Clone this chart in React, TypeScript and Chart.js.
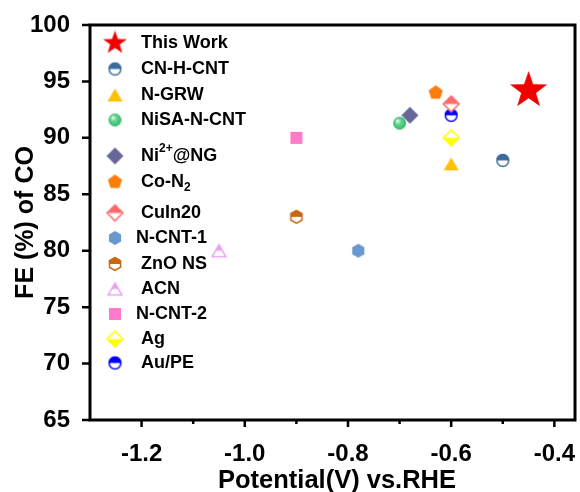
import { useEffect, useRef } from 'react';
import { Chart, registerables } from 'chart.js';

Chart.register(...registerables);

// Catalyst comparison: CO Faradaic efficiency vs. applied potential
const materials = [
  'This Work', 'CN-H-CNT', 'N-GRW', 'NiSA-N-CNT', 'Ni^{2+}@NG', 'Co-N_{2}',
  'CuIn20', 'N-CNT-1', 'ZnO NS', 'ACN', 'N-CNT-2', 'Ag', 'Au/PE',
];
const potentials = [-0.45, -0.5, -0.6, -0.7, -0.68, -0.63, -0.6, -0.78, -0.9, -1.05, -0.9, -0.6, -0.6];
const faradaicEff = [94.2, 88.0, 87.7, 91.3, 92.0, 94.0, 93.0, 80.0, 83.0, 80.0, 90.0, 90.0, 92.0];

const markerColors = [
  '#f20000', '#3b6a9b', '#ffc000', '#2fb864', '#666699', '#fb7d0a',
  '#ff6a6a', '#6699cc', '#cc6611', '#e6a3f0', '#ff7ac8', '#ffff00', '#0000ff',
];
// shape / fill style for each marker
const markerShapes = [
  'star', 'circle', 'triangle', 'circle', 'diamond', 'pentagon',
  'diamond', 'hexagon', 'hexagon', 'triangle', 'square', 'diamond', 'circle',
];
const markerFills = [
  'solid', 'top', 'solid', 'sphere', 'solid', 'solid',
  'top', 'solid', 'top', 'top', 'solid', 'bottom', 'top',
];

const xMajorTicks = [-1.2, -1.0, -0.8, -0.6, -0.4];
const xMinorTicks = [-1.1, -0.9, -0.7, -0.5];
const yTicks = [65, 70, 75, 80, 85, 90, 95, 100];

const FONT = '"Liberation Sans", Arial, sans-serif';

type Shape = string;

function tracePath(g: CanvasRenderingContext2D, shape: Shape, cx: number, cy: number, r: number) {
  g.beginPath();
  if (shape === 'circle') {
    g.arc(cx, cy, r, 0, Math.PI * 2);
  } else if (shape === 'diamond') {
    g.moveTo(cx, cy - r);
    g.lineTo(cx + r, cy);
    g.lineTo(cx, cy + r);
    g.lineTo(cx - r, cy);
    g.closePath();
  } else if (shape === 'square') {
    g.rect(cx - r, cy - r, 2 * r, 2 * r);
  } else if (shape === 'triangle') {
    const h = r * 1.75;
    g.moveTo(cx, cy - h / 2);
    g.lineTo(cx + r, cy + h / 2);
    g.lineTo(cx - r, cy + h / 2);
    g.closePath();
  } else {
    const n = shape === 'star' ? 10 : shape === 'pentagon' ? 5 : 6;
    for (let i = 0; i < n; i++) {
      const a = -Math.PI / 2 + (i * 2 * Math.PI) / n;
      const rr = shape === 'star' && i % 2 === 1 ? r * 0.4 : r;
      const px = cx + rr * Math.cos(a);
      const py = cy + rr * Math.sin(a);
      if (i === 0) g.moveTo(px, py);
      else g.lineTo(px, py);
    }
    g.closePath();
  }
}

function shapeRadius(shape: Shape, big: boolean) {
  switch (shape) {
    case 'star': return big ? 19.5 : 12.5;
    case 'circle': return 6.5;
    case 'diamond': return 8.5;
    case 'square': return 6;
    case 'triangle': return 7.5;
    case 'pentagon': return 7.5;
    case 'hexagon': return 7;
    default: return 7;
  }
}

function makeMarker(shape: Shape, fill: string, color: string, big: boolean) {
  const r = shapeRadius(shape, big);
  const S = Math.ceil(2 * r + 4);
  const c = document.createElement('canvas');
  c.width = S;
  c.height = S;
  const g = c.getContext('2d')!;
  const cx = S / 2;
  const cy = S / 2;
  tracePath(g, shape, cx, cy, r);
  if (fill === 'solid') {
    g.fillStyle = color;
    g.fill();
  } else if (fill === 'sphere') {
    const grad = g.createRadialGradient(cx - r * 0.35, cy - r * 0.4, 0.5, cx, cy, r);
    grad.addColorStop(0, '#e8fff0');
    grad.addColorStop(0.35, '#6fd99a');
    grad.addColorStop(1, color);
    g.fillStyle = grad;
    g.fill();
  } else {
    g.fillStyle = '#ffffff';
    g.fill();
    g.save();
    g.clip();
    g.fillStyle = color;
    if (fill === 'top') g.fillRect(0, 0, S, cy);
    else g.fillRect(0, cy, S, S - cy);
    g.restore();
    tracePath(g, shape, cx, cy, r - 0.6);
    g.strokeStyle = color;
    g.lineWidth = 1.5;
    g.stroke();
  }
  return c;
}

// legend row centres and text start
const legendRowsY = [43, 69, 95, 120, 156, 182, 213, 238, 264, 289, 314, 339, 363];
const legendTextX = [141, 141, 141, 141, 141, 141, 141, 136, 141, 141, 136, 141, 141];

function drawRichText(g: CanvasRenderingContext2D, text: string, x: number, y: number) {
  const parts = text.split(/(\^\{[^}]*\}|_\{[^}]*\})/).filter((p) => p.length);
  let cx = x;
  g.textBaseline = 'middle';
  g.textAlign = 'left';
  for (const p of parts) {
    if (p.startsWith('^{')) {
      const s = p.slice(2, -1);
      g.font = `bold 12px ${FONT}`;
      g.fillText(s, cx, y - 7);
      cx += g.measureText(s).width;
    } else if (p.startsWith('_{')) {
      const s = p.slice(2, -1);
      g.font = `bold 12px ${FONT}`;
      g.fillText(s, cx, y + 6);
      cx += g.measureText(s).width;
    } else {
      g.font = `bold 18px ${FONT}`;
      g.fillText(p, cx, y);
      cx += g.measureText(p).width;
    }
  }
}

export default function App() {
  const ref = useRef<HTMLCanvasElement>(null);

  useEffect(() => {
    document.body.style.margin = '0';
    const plotMarkers = materials.map((_, i) =>
      makeMarker(markerShapes[i], markerFills[i], markerColors[i], true));
    const legendMarkers = materials.map((_, i) =>
      makeMarker(markerShapes[i], markerFills[i], markerColors[i], false));

    const framePlugin = {
      id: 'frameAndLegend',
      afterDraw(chart: any) {
        const g: CanvasRenderingContext2D = chart.ctx;
        const { left, right, top, bottom } = chart.chartArea;
        const xs = chart.scales.x;
        const ys = chart.scales.y;
        g.save();
        g.strokeStyle = '#000';
        g.lineWidth = 3;
        g.strokeRect(left, top, right - left, bottom - top);
        g.lineWidth = 2.5;
        g.beginPath();
        for (const v of yTicks) {
          const py = ys.getPixelForValue(v);
          g.moveTo(left, py);
          g.lineTo(left - 8, py);
        }
        for (const v of xMajorTicks) {
          const px = xs.getPixelForValue(v);
          g.moveTo(px, bottom);
          g.lineTo(px, bottom + 7);
        }
        for (const v of xMinorTicks) {
          const px = xs.getPixelForValue(v);
          g.moveTo(px, bottom);
          g.lineTo(px, bottom + 4);
        }
        g.stroke();

        // axis titles
        g.fillStyle = '#000';
        g.font = `bold 25.5px ${FONT}`;
        g.textAlign = 'center';
        g.textBaseline = 'alphabetic';
        g.fillText('Potential(V) vs.RHE', 337, 488);
        g.font = `bold 25px ${FONT}`;
        g.save();
        g.translate(33, (top + bottom) / 2);
        g.rotate(-Math.PI / 2);
        g.fillText('FE (%) of CO', 0, 0);
        g.restore();

        // legend
        materials.forEach((label, i) => {
          const m = legendMarkers[i];
          g.drawImage(m, 115 - m.width / 2, legendRowsY[i] - m.height / 2);
          g.fillStyle = '#000';
          drawRichText(g, label, legendTextX[i], legendRowsY[i]);
        });
        g.restore();
      },
    };

    const chart = new Chart(ref.current!, {
      type: 'scatter',
      data: {
        datasets: materials.map((label, i) => ({
          label: label.replace(/[\^_]\{([^}]*)\}/g, '$1'),
          data: [{ x: potentials[i], y: faradaicEff[i] }],
          pointStyle: plotMarkers[i] as any,
          backgroundColor: markerColors[i],
          borderColor: markerColors[i],
        })),
      },
      options: {
        responsive: false,
        animation: false,
        events: [],
        layout: { padding: { top: 25, right: 4, left: 0, bottom: 0 } },
        plugins: {
          legend: { display: false },
          tooltip: { enabled: false },
        },
        scales: {
          x: {
            type: 'linear',
            min: -1.3,
            max: -0.36,
            grid: { display: false },
            border: { display: false },
            afterBuildTicks: (s: any) => {
              s.ticks = xMajorTicks.map((v) => ({ value: v }));
            },
            afterFit: (s: any) => {
              s.height = 72;
              s.paddingLeft = 0;
              s.paddingRight = 0;
            },
            ticks: {
              color: '#000',
              padding: 12,
              maxRotation: 0,
              autoSkip: false,
              font: { family: FONT, size: 24, weight: 'bold' },
              callback: (v: any) => Number(v).toFixed(1),
            },
          },
          y: {
            type: 'linear',
            min: 65,
            max: 100,
            grid: { display: false },
            border: { display: false },
            afterBuildTicks: (s: any) => {
              s.ticks = yTicks.map((v) => ({ value: v }));
            },
            afterFit: (s: any) => {
              s.width = 90;
              s.paddingTop = 0;
              s.paddingBottom = 0;
            },
            ticks: {
              color: '#000',
              padding: 12,
              autoSkip: false,
              font: { family: FONT, size: 24, weight: 'bold' },
              callback: (v: any) => String(v),
            },
          },
        },
      },
      plugins: [framePlugin],
    });
    return () => chart.destroy();
  }, []);

  return (
    <div style={{ width: 580, height: 492, position: 'relative' }}>
      <canvas ref={ref} width={580} height={492} />
    </div>
  );
}
